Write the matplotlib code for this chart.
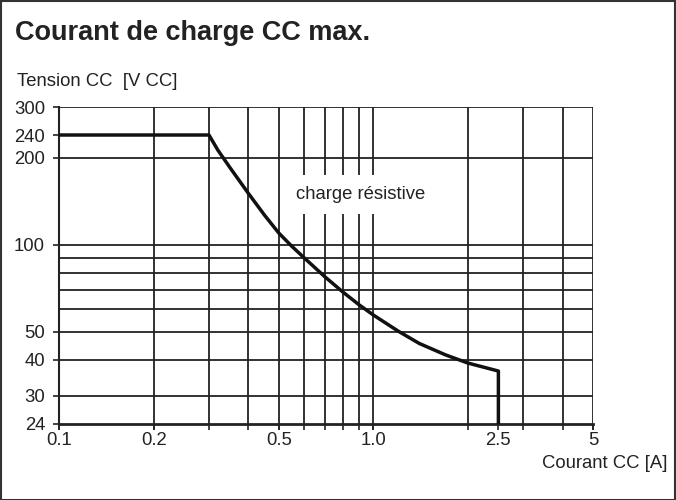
import matplotlib
matplotlib.use('Agg')
import matplotlib.pyplot as plt
from matplotlib.ticker import FixedLocator, NullFormatter
from matplotlib.patches import Rectangle

# courbe courant / tension (charge resistive)
courant = [0.1, 0.3, 0.32, 0.35, 0.4, 0.45, 0.5, 0.55, 0.6, 0.7, 0.8, 0.9,
           1.0, 1.2, 1.4, 1.7, 2.0, 2.5, 2.5]
tension = [240, 240, 213, 185, 151, 127, 110, 99, 90.6, 77.7, 68.7, 62.1,
           57.2, 50.3, 45.6, 41.6, 39.0, 36.6, 24]

x_ticks = [0.1, 0.2, 0.5, 1.0, 2.5, 5]
x_labels = ['0.1', '0.2', '0.5', '1.0', '2.5', '5']
x_grid = [0.1, 0.2, 0.3, 0.4, 0.5, 0.6, 0.7, 0.8, 0.9, 1.0, 2, 3, 4, 5]

y_ticks = [24, 30, 40, 50, 100, 200, 240, 300]
y_labels = ['24', '30', '40', '50', '100', '200', '240', '300']
y_grid = [30, 40, 50, 60, 70, 80, 90, 100, 200, 300]

plt.rcParams['font.family'] = ['Liberation Sans', 'DejaVu Sans']
couleur = '#222222'

fig = plt.figure(figsize=(6.76, 5.0), dpi=100)
ax = fig.add_axes([59/676, 76/500, 534/676, 317/500])
ax.set_xscale('log')
ax.set_yscale('log')
ax.set_xlim(0.1, 5)
ax.set_ylim(24, 300)

ax.xaxis.set_major_locator(FixedLocator(x_ticks))
ax.xaxis.set_minor_locator(FixedLocator(x_grid))
ax.set_xticklabels(x_labels)
ax.xaxis.set_minor_formatter(NullFormatter())
ax.yaxis.set_major_locator(FixedLocator(y_ticks))
ax.yaxis.set_minor_locator(FixedLocator(y_grid))
ax.set_yticklabels(y_labels)
ax.yaxis.set_minor_formatter(NullFormatter())
ax.xaxis.remove_overlapping_locs = False
ax.yaxis.remove_overlapping_locs = False

ax.tick_params(axis='x', which='both', direction='out', length=4, width=1.2,
               color=couleur, labelsize=13.3, labelcolor=couleur, pad=2)
ax.tick_params(axis='y', which='major', direction='out', length=4, width=1.2,
               color=couleur, labelsize=13.3, labelcolor=couleur, pad=6)
ax.tick_params(axis='y', which='minor', length=0)

ax.grid(True, axis='x', which='minor', color=couleur, linewidth=1.3)
ax.grid(True, axis='y', which='minor', color=couleur, linewidth=1.3)
ax.grid(False, which='major')

for s in ['top', 'right']:
    ax.spines[s].set_visible(False)
ax.spines['left'].set_linewidth(1.5)
ax.spines['bottom'].set_linewidth(2)
ax.spines['left'].set_color(couleur)
ax.spines['bottom'].set_color(couleur)

ax.plot(courant, tension, color='#111111', linewidth=2.5, solid_joinstyle='round', zorder=5)

ax.text(0.91, 149, 'charge résistive', fontsize=13.3, color=couleur, ha='center', va='center',
        bbox=dict(facecolor='white', edgecolor='none', pad=8), zorder=4)

fig.text(15/676, 1 - 33/500, 'Courant de charge CC max.', fontsize=19.5, fontweight='bold',
         color=couleur, ha='left', va='center')
fig.text(17/676, 1 - 81/500, 'Tension CC  [V CC]', fontsize=13.3, color=couleur,
         ha='left', va='center')
fig.text(667/676, 1 - 463/500, 'Courant CC [A]', fontsize=13.3, color=couleur,
         ha='right', va='center')

fig.patches.append(Rectangle((0.001, 0.001), 0.997, 0.997, transform=fig.transFigure,
                             fill=False, edgecolor='#333333', linewidth=1.5))

fig.savefig('out.png', dpi=100)
